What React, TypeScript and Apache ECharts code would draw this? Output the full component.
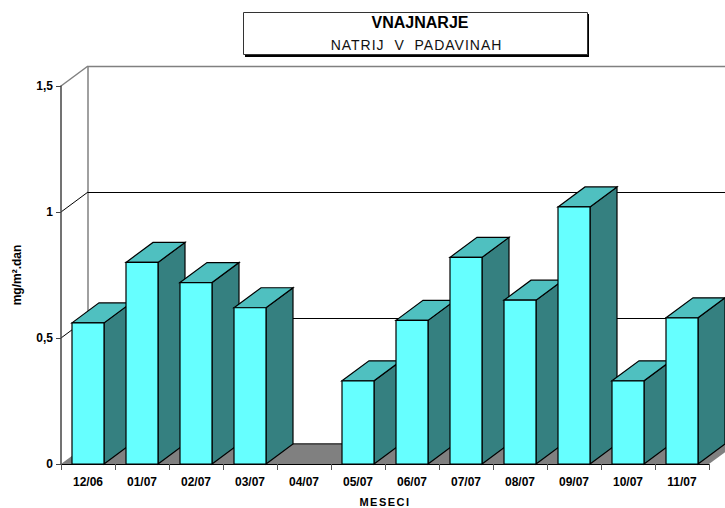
import React, { useEffect, useRef } from "react";
import * as echarts from "echarts";

const categories = ["12/06", "01/07", "02/07", "03/07", "04/07", "05/07", "06/07", "07/07", "08/07", "09/07", "10/07", "11/07"];
const sodium = [0.56, 0.8, 0.72, 0.62, 0, 0.33, 0.57, 0.82, 0.65, 1.02, 0.33, 0.58];
const wallTicks = [0, 0.5, 1, 1.5];
const titleText = "VNAJNARJE";
const subtitleText = "NATRIJ  V  PADAVINAH";
const xName = "MESECI";

const DX = 27;
const DY = -20;
const BAR_W = 32;

function poly(points: number[][], fill: string, stroke: string, lineWidth: number) {
  return { type: "polygon", shape: { points }, style: { fill, stroke, lineWidth, lineJoin: "miter" } };
}

export default function App() {
  const ref = useRef<HTMLDivElement>(null);
  useEffect(() => {
    const chart = echarts.init(ref.current!, null, { renderer: "svg" });
    chart.setOption({
      animation: false,
      backgroundColor: "#ffffff",
      title: [
        {
          text: titleText,
          left: 420,
          top: 14,
          textAlign: "center",
          padding: 0,
          textStyle: { fontFamily: "Liberation Sans", fontSize: 16, fontWeight: "bold", color: "#000" },
        },
        {
          text: subtitleText,
          left: 416.5,
          top: 38,
          textAlign: "center",
          padding: 0,
          textStyle: { fontFamily: "Liberation Sans", fontSize: 14, fontWeight: "normal", color: "#111" },
        },
      ],
      graphic: [
        { type: "rect", z: -1, shape: { x: 245, y: 14, width: 344, height: 43 }, style: { fill: "#000" } },
        { type: "rect", z: 0, shape: { x: 243.5, y: 12.5, width: 344, height: 42 }, style: { fill: "#fff", stroke: "#333", lineWidth: 1 } },
      ],
      grid: { left: 61, top: 86, width: 648, height: 378, containLabel: false, outerBoundsMode: "none" },
      xAxis: {
        type: "category",
        data: categories,
        z: 5,
        name: xName,
        nameLocation: "middle",
        nameGap: 32,
        nameTextStyle: { fontFamily: "Liberation Sans", fontSize: 11, fontWeight: "bold", color: "#000" },
        axisLine: { lineStyle: { color: "#000", width: 1 } },
        axisTick: { show: true, length: 6, lineStyle: { color: "#555", width: 1 } },
        axisLabel: { fontFamily: "Liberation Sans", fontSize: 12, fontWeight: "bold", color: "#000", margin: 12, interval: 0 },
      },
      yAxis: {
        type: "value",
        min: 0,
        max: 1.5,
        interval: 0.5,
        z: 5,
        name: "mg/m².dan",
        nameLocation: "middle",
        nameRotate: 90,
        nameGap: 38,
        nameTextStyle: { fontFamily: "Liberation Sans", fontSize: 12, fontWeight: "bold", color: "#000" },
        axisLine: { show: true, lineStyle: { color: "#444", width: 1.5 } },
        axisTick: { show: true, length: 5, lineStyle: { color: "#444", width: 1 } },
        splitLine: { show: false },
        axisLabel: {
          fontFamily: "Liberation Sans",
          fontSize: 12,
          fontWeight: "bold",
          color: "#000",
          margin: 8,
          formatter: (v: number) => String(v).replace(".", ","),
        },
      },
      series: [
        {
          name: "walls",
          type: "custom",
          clip: false,
          silent: true,
          z: 1,
          data: wallTicks.map((v) => [0, v]),
          encode: { x: 0, y: 1 },
          renderItem: (params: any, api: any) => {
            const v = api.value(1);
            const c = params.coordSys;
            const y = api.coord([0, v])[1];
            const x0 = c.x;
            const x1 = c.x + c.width;
            const color = v === 0 || v === 1.5 ? "#808080" : "#000";
            const w = v === 0 || v === 1.5 ? 1.5 : 1;
            const children: any[] = [];
            if (v === 0) {
              children.push(poly([[x0, y], [x0 + DX, y + DY], [x1 + DX, y + DY], [x1, y]], "#808080", "none", 0));
              children.push({
                type: "line",
                shape: { x1: x0 + DX, y1: c.y + DY, x2: x0 + DX, y2: y + DY },
                style: { stroke: "#808080", lineWidth: 1.5 },
              });
              children.push({
                type: "line",
                shape: { x1: x0 + DX, y1: y + DY, x2: x1 + DX, y2: y + DY },
                style: { stroke: "#505050", lineWidth: 2 },
              });
            } else {
              children.push({
                type: "line",
                shape: { x1: x0, y1: y, x2: x0 + DX, y2: y + DY },
                style: { stroke: color, lineWidth: w },
              });
              children.push({
                type: "line",
                shape: { x1: x0 + DX, y1: y + DY + 0.5, x2: x1 + DX, y2: y + DY + 0.5 },
                style: { stroke: color, lineWidth: w },
              });
            }
            return { type: "group", children };
          },
        },
        {
          name: "Natrij",
          type: "custom",
          clip: false,
          z: 2,
          data: sodium.map((v, i) => [i, v]),
          encode: { x: 0, y: 1 },
          renderItem: (_params: any, api: any) => {
            const v = api.value(1);
            if (!v) return { type: "group", children: [] };
            const top = api.coord([api.value(0), v]);
            const base = api.coord([api.value(0), 0]);
            const l = top[0] - BAR_W / 2;
            const r = top[0] + BAR_W / 2;
            const t = top[1];
            const b = base[1];
            const stroke = "#000";
            return {
              type: "group",
              children: [
                poly([[r, t], [r + DX, t + DY], [r + DX, b + DY], [r, b]], "#358080", stroke, 1.2),
                poly([[l, t], [l + DX, t + DY], [r + DX, t + DY], [r, t]], "#4FC0C0", stroke, 1.2),
                poly([[l, t], [r, t], [r, b], [l, b]], "#66FFFF", stroke, 1.2),
              ],
            };
          },
        },
      ],
    });
    // ECharts has no letter-spacing option: the reference's title and axis name are tracked out.
    ref.current!.querySelectorAll("text").forEach((node) => {
      const s = node.textContent;
      if (s === subtitleText) node.setAttribute("letter-spacing", "1");
      if (s === xName) node.setAttribute("letter-spacing", "1.5");
    });
    return () => chart.dispose();
  }, []);
  return <div ref={ref} style={{ position: "absolute", left: 0, top: 0, width: 725, height: 508 }} />;
}
